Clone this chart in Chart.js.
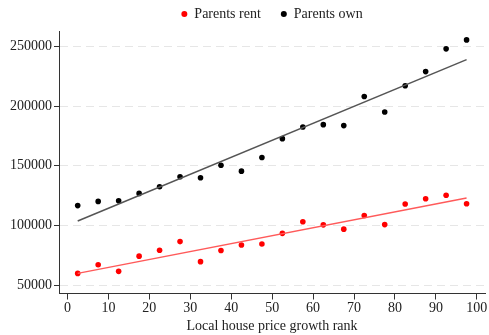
<!DOCTYPE html>
<html>
<head>
<meta charset="utf-8">
<script src="https://cdn.jsdelivr.net/npm/chart.js@4/dist/chart.umd.min.js"></script>
<style>
  html, body { margin: 0; padding: 0; background: #fff; }
  #wrap { width: 489px; height: 335px; }
</style>
</head>
<body>
<div id="wrap"><canvas id="c" width="489" height="335"></canvas></div>
<script>
// Local house price growth rank bins (midpoints of 5-point bins)
const ranks = [2.5, 7.5, 12.5, 17.5, 22.5, 27.5, 32.5, 37.5, 42.5, 47.5,
               52.5, 57.5, 62.5, 67.5, 72.5, 77.5, 82.5, 87.5, 92.5, 97.5];

// Mean values by bin
const parentsRent = [60000, 67200, 61700, 74400, 79400, 86600, 69800, 79100, 83800, 84600,
                     93500, 103200, 100600, 97000, 108400, 100800, 118000, 122400, 125300, 118300];
const parentsOwn = [116700, 120200, 120800, 126900, 132500, 140800, 140000, 150500, 145500, 156900,
                    172700, 182500, 184400, 183600, 208000, 195000, 216900, 228800, 247800, 255300];

// Linear fit endpoints
const fitX = [2.5, 97.5];
const rentFit = [60000, 123000];
const ownFit = [103800, 238800];

// Axis ticks
const xTicks = [0, 10, 20, 30, 40, 50, 60, 70, 80, 90, 100];
const yTicks = [50000, 100000, 150000, 200000, 250000];

const serif = "'Liberation Serif', 'Times New Roman', serif";
const toPts = (xs, ys) => xs.map((x, i) => ({ x: x, y: ys[i] }));

new Chart(document.getElementById('c'), {
  type: 'scatter',
  data: {
    datasets: [
      { label: 'Parents rent', data: toPts(ranks, parentsRent), order: 1,
        backgroundColor: '#ff0000', borderColor: '#ff0000', pointRadius: 2.8, borderWidth: 0 },
      { label: 'Parents own', data: toPts(ranks, parentsOwn), order: 1,
        backgroundColor: '#000000', borderColor: '#000000', pointRadius: 2.8, borderWidth: 0 },
      { label: 'rent fit', data: toPts(fitX, rentFit), order: 0, showLine: true,
        borderColor: '#ff5a5a', borderWidth: 1.5, pointRadius: 0 },
      { label: 'own fit', data: toPts(fitX, ownFit), order: 0, showLine: true,
        borderColor: '#555555', borderWidth: 1.5, pointRadius: 0 }
    ]
  },
  options: {
    responsive: false,
    animation: false,
    devicePixelRatio: 1,
    layout: { padding: { left: 0, right: 3, top: -13, bottom: 0 } },
    plugins: {
      tooltip: { enabled: false },
      legend: {
        position: 'top',
        align: 'center',
        fullSize: false,
        labels: {
          filter: (item) => item.datasetIndex < 2,
          usePointStyle: true,
          pointStyle: 'circle',
          boxWidth: 6,
          boxHeight: 4.24,
          padding: 20,
          color: '#222',
          font: { family: serif, size: 14 }
        }
      }
    },
    scales: {
      x: {
        type: 'linear',
        min: -2.07,
        max: 102,
        afterBuildTicks: (s) => { s.ticks = xTicks.map(v => ({ value: v })); },
        afterFit: (s) => { s.height = 41.5; },
        grid: { drawOnChartArea: false, drawTicks: true, tickLength: 6, tickColor: '#333', tickWidth: 1 },
        border: { display: true, color: '#333', width: 1 },
        ticks: { color: '#222', padding: 0, maxRotation: 0, font: { family: serif, size: 14 } },
        title: { display: true, text: 'Local house price growth rank', color: '#222',
                 padding: { top: 0, bottom: 0 }, font: { family: serif, size: 14 } }
      },
      y: {
        type: 'linear',
        min: 43167,
        max: 262750,
        afterBuildTicks: (s) => { s.ticks = yTicks.map(v => ({ value: v })); },
        afterFit: (s) => { s.width = 59; },
        grid: { color: '#e6e6e6', lineWidth: 1, drawTicks: true, tickLength: 5,
                tickColor: '#333', tickWidth: 1, tickBorderDash: [] },
        border: { display: true, color: '#333', width: 1, dash: [8, 5] },
        ticks: { color: '#222', padding: 2, font: { family: serif, size: 14 },
                 callback: (v) => String(v) }
      }
    }
  }
});
</script>
</body>
</html>
